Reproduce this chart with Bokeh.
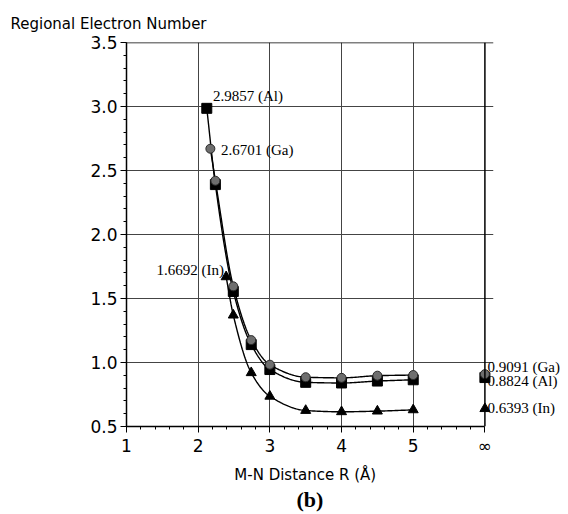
import numpy as np
from bokeh.plotting import figure
from bokeh.models import FixedTicker, Label, Range1d, Span, LinearAxis
from bokeh.embed import file_html
from bokeh.resources import INLINE

# ---- data ----
al_x = [2.12, 2.24, 2.49, 2.74, 3.0, 3.5, 4.0, 4.5, 5.0]
al_y = [2.9857, 2.39, 1.555, 1.14, 0.945, 0.845, 0.84, 0.855, 0.865]
ga_x = [2.17, 2.24, 2.49, 2.74, 3.0, 3.5, 4.0, 4.5, 5.0]
ga_y = [2.6701, 2.42, 1.595, 1.175, 0.983, 0.885, 0.88, 0.897, 0.902]
in_x = [2.39, 2.49, 2.74, 3.0, 3.5, 4.0, 4.5, 5.0]
in_y = [1.6692, 1.37, 0.92, 0.736, 0.625, 0.615, 0.62, 0.63]
inf_pos = 6.0
al_inf = 0.8824
ga_inf = 0.9091
in_inf = 0.6393
x_ticks = [1, 2, 3, 4, 5, 6]
x_tick_labels = ["1", "2", "3", "4", "5", "\u221e"]
y_ticks = [0.5, 1.0, 1.5, 2.0, 2.5, 3.0, 3.5]
inf_labels = ["0.9091 (Ga)", "0.8824 (Al)", "0.6393 (In)"]


def smooth(xs, ys, n=30):
    """Monotone cubic (Fritsch-Carlson) rendering of a line through points."""
    x = np.asarray(xs, float)
    y = np.asarray(ys, float)
    h = np.diff(x)
    d = np.diff(y) / h
    m = np.zeros_like(y)
    m[0], m[-1] = d[0], d[-1]
    for i in range(1, len(x) - 1):
        if d[i - 1] * d[i] <= 0:
            m[i] = 0.0
        else:
            w1 = 2 * h[i] + h[i - 1]
            w2 = h[i] + 2 * h[i - 1]
            m[i] = (w1 + w2) / (w1 / d[i - 1] + w2 / d[i])
    out_x, out_y = [], []
    for i in range(len(x) - 1):
        t = np.linspace(0, 1, n, endpoint=False)
        h00 = 2 * t**3 - 3 * t**2 + 1
        h10 = t**3 - 2 * t**2 + t
        h01 = -2 * t**3 + 3 * t**2
        h11 = t**3 - t**2
        out_x.extend(x[i] + t * h[i])
        out_y.extend(h00 * y[i] + h10 * h[i] * m[i] + h01 * y[i + 1] + h11 * h[i] * m[i + 1])
    out_x.append(x[-1])
    out_y.append(y[-1])
    return out_x, out_y


p = figure(width=568, height=514, output_backend="svg", toolbar_location=None,
           x_range=Range1d(1, 6.12), y_range=Range1d(0.5, 3.5),
           min_border_left=126, min_border_right=75, min_border_top=42, min_border_bottom=87)
p.background_fill_color = "white"
p.border_fill_color = "white"
p.outline_line_color = None

# y-axis title, placed at the top-left like the reference
p.title.text = "Regional Electron Number"
p.title.align = "left"
p.title.offset = -116
p.title.text_font = "DejaVu Sans"
p.title.text_font_size = "15px"
p.title.text_font_style = "normal"
p.title.text_color = "black"
p.title.standoff = 19

# axes
p.xaxis.ticker = FixedTicker(ticks=x_ticks, minor_ticks=list(np.round(np.arange(1, 6.001, 0.2), 2)))
p.xaxis.major_label_overrides = {t: l for t, l in zip(x_ticks, x_tick_labels)}
p.xaxis.bounds = (1, 6)
p.yaxis.ticker = FixedTicker(ticks=y_ticks, minor_ticks=list(np.round(np.arange(0.5, 3.501, 0.1), 2)))
p.yaxis.major_label_overrides = {t: f"{t:.1f}" for t in y_ticks}
for ax in (p.xaxis, p.yaxis):
    ax.axis_line_color = "black"
    ax.axis_line_width = 1.5
    ax.major_tick_line_color = "black"
    ax.minor_tick_line_color = "black"
    ax.major_tick_out = 6
    ax.major_tick_in = 0
    ax.minor_tick_out = 3
    ax.minor_tick_in = 0
    ax.major_label_text_font = "DejaVu Sans"
    ax.major_label_text_font_size = "17px"
    ax.major_label_text_color = "black"
    ax.major_label_standoff = 3

p.xaxis.axis_label = "M-N Distance   R (\u00c5)"
p.xaxis.axis_label_text_font = "DejaVu Sans"
p.xaxis.axis_label_text_font_size = "15px"
p.xaxis.axis_label_text_font_style = "normal"
p.xaxis.axis_label_text_color = "black"
p.xaxis.axis_label_standoff = 7

# panel caption "(b)" below the axis title
cap = LinearAxis(ticker=FixedTicker(ticks=[]), axis_line_color=None,
                 major_tick_line_color=None, minor_tick_line_color=None,
                 major_tick_out=0, minor_tick_out=0,
                 axis_label="(b)", axis_label_text_font="Liberation Serif",
                 axis_label_text_font_size="22px", axis_label_text_font_style="bold",
                 axis_label_text_color="black",
                 axis_label_standoff=0, major_label_standoff=0)
p.add_layout(cap, "below")

# labels of the values at infinity, on the right side
inf_label_pos = [0.967, 0.858, 0.648]
rax = LinearAxis(ticker=FixedTicker(ticks=inf_label_pos),
                 major_label_overrides={t: l for t, l in zip(inf_label_pos, inf_labels)},
                 axis_line_color=None, major_tick_line_color=None, minor_tick_line_color=None,
                 major_tick_out=0, minor_tick_out=0,
                 major_label_standoff=-6, major_label_text_font="Liberation Serif",
                 major_label_text_font_size="15px", major_label_text_color="black")
p.add_layout(rax, "right")

# frame borders (top and right at the range limits 3.5 and infinity)
p.add_layout(Span(location=6, dimension="height", line_color="black", line_width=1.5))
p.add_layout(Span(location=3.5, dimension="width", line_color="black", line_width=1.5))

# grid
p.xgrid.ticker = FixedTicker(ticks=[2, 3, 4, 5])
p.ygrid.ticker = FixedTicker(ticks=[1.0, 1.5, 2.0, 2.5, 3.0])
p.xgrid.grid_line_color = "#444444"
p.ygrid.grid_line_color = "#444444"
p.xgrid.grid_line_width = 1
p.ygrid.grid_line_width = 1
p.ygrid.bounds = (1, 6)

# lines
for xs, ys in ((in_x, in_y), (al_x, al_y), (ga_x, ga_y)):
    sx, sy = smooth(xs, ys)
    p.line(sx, sy, line_color="black", line_width=1.4)

# markers
p.scatter(in_x + [inf_pos], in_y + [in_inf], marker="triangle", size=10,
          fill_color="black", line_color="black")
p.scatter(al_x + [inf_pos], al_y + [al_inf], marker="square", size=10,
          fill_color="black", line_color="black")
p.scatter(ga_x + [inf_pos], ga_y + [ga_inf], marker="circle", size=9,
          fill_color="#6e6e6e", line_color="#2a2a2a", line_width=1)


def lab(x, y, text, align="left"):
    p.add_layout(Label(x=x, y=y, text=text, text_font="Liberation Serif", text_font_size="15px",
                       text_align=align, text_baseline="middle", text_color="black"))


lab(2.206, 3.079, "2.9857 (Al)")
lab(2.318, 2.658, "2.6701 (Ga)")
lab(2.36, 1.723, "1.6692 (In)", align="right")

open("out.html", "w").write(file_html(p, INLINE))
